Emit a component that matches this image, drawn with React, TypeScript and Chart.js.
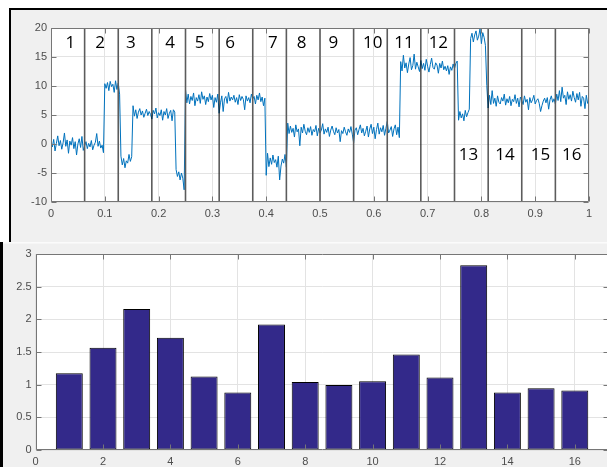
import React, { useEffect, useRef } from "react";
import { Chart, registerables } from "chart.js";

Chart.register(...registerables);

// ---------- Top panel: sampled signal (step 0.0025 over 0..1) ----------
const sampleStep = 0.0025;
const signalValues = [
  // 0 .. 0.0975
  0.3, -0.5, 0.8, -1.2, 0.1, 1.4, -0.3, 0.6, -0.9, 0.2,
  1.9, -0.4, 0.7, -1.6, 0.5, -0.2, 1.1, -0.8, 0.4, -1.9,
  0.0, 0.9, -0.6, 1.3, -1.1, -0.3, 0.4, -0.8, 0.1, -0.5,
  0.6, -1.0, -0.2, 0.3, 1.8, -0.4, 0.5, -0.7, -0.2, -1.5,
  // 0.1 .. 0.1275
  10.4, 9.6, 10.6, 9.2, 10.8, 9.9, 10.3, 8.9, 10.9, 9.4, 10.5, 8.6,
  // 0.13 .. 0.15
  -2.1, -3.6, -2.5, -4.1, -2.9, -3.3, -1.8, -3.0, -2.2,
  // 0.1525 .. 0.23
  6.6, 4.8, 5.9, 4.4, 5.5, 6.1, 5.0, 5.7, 4.6, 5.3,
  6.0, 4.9, 5.6, 5.1, 4.3, 5.8, 5.2, 6.2, 4.5, 5.4,
  4.9, 5.9, 4.1, 5.6, 5.0, 6.1, 4.4, 5.3, 5.8, 4.0,
  5.9, 5.5,
  // 0.2325 .. 0.2475
  -4.4, -5.6, -4.8, -6.2, -5.0, -5.9, -7.9,
  // 0.25 .. 0.3975
  9.4, 7.1, 8.6, 6.9, 8.2, 7.5, 8.8, 6.6, 8.0, 7.4,
  8.5, 7.0, 9.0, 7.7, 8.3, 6.8, 8.1, 7.3, 8.7, 7.6,
  8.4, 6.3, 8.0, 7.2, 8.6, 5.3, 7.1, 8.3, 5.6, 7.8,
  8.2, 7.0, 8.9, 7.4, 8.1, 7.6, 8.4, 7.2, 8.0, 6.8,
  8.5, 7.5, 8.2, 7.7, 5.9, 8.3, 7.4, 8.0, 7.1, 8.6,
  7.8, 8.2, 6.9, 8.4, 7.6, 8.8, 7.3, 8.1, 6.6, 7.9,
  // 0.4 .. 0.4375
  -5.4, -1.6, -3.9, -2.4, -3.5, -1.9, -3.2, -2.7, -4.0, -2.1,
  -6.2, -3.8, -2.6, -3.3, -1.8, -4.0,
  // 0.44 .. 0.6475
  3.6, 1.8, 3.1, 2.0, 2.7, 1.2, 3.3, 2.1, 2.6, -0.3,
  2.9, 1.9, 3.4, 2.2, 1.6, 2.8, 2.0, 3.0, 1.5, 2.5,
  2.1, 3.2, 1.4, 2.7, 1.9, 2.4, 3.5, 1.7, 2.6, 2.0,
  2.9, 1.3, 2.4, 3.1, 2.2, 1.6, 2.8, 1.9, 2.5, 0.4,
  2.3, 1.8, 2.9, 2.1, 1.5, 2.6, 2.0, 3.0, 1.7, 0.2,
  2.4, 2.8, 1.6, 2.5, 3.3, 1.9, 2.7, 1.4, 2.2, 3.1,
  1.2, 2.6, 3.4, 1.8, 2.9, 0.9, 2.5, 3.6, 1.7, 2.8,
  2.1, 3.2, 1.5, 2.7, 3.9, 1.9, 2.4, 3.0, 1.3, 2.6,
  3.3, 1.6, 2.9, 1.1,
  // 0.65 .. 0.755
  14.2, 12.6, 15.3, 13.1, 14.0, 12.3, 13.8, 14.9, 12.8, 13.5,
  15.5, 12.9, 14.1, 13.3, 12.5, 14.4, 13.0, 13.9, 12.7, 14.6,
  13.4, 12.4, 13.7, 14.8, 13.2, 12.9, 14.0, 13.6, 12.2, 13.9,
  13.1, 14.3, 12.8, 13.4, 12.6, 13.5, 12.0, 13.3, 12.7, 13.8,
  13.0, 13.9, 14.3,
  // 0.7575 .. 0.7775
  4.1, 5.6, 4.5, 5.2, 4.0, 5.8, 4.7, 5.4, 6.0,
  // 0.78 .. 0.8075
  18.2, 19.1, 17.6, 18.8, 19.5, 17.9, 18.6, 19.9, 17.3, 19.2, 18.4, 17.0,
  // 0.81 .. 1
  10.1, 6.2, 8.4, 6.8, 9.2, 7.0, 7.9, 6.5, 8.3, 7.2,
  6.9, 8.0, 7.4, 8.6, 6.7, 7.8, 7.1, 8.2, 6.6, 7.7,
  7.3, 8.5, 7.0, 7.9, 6.4, 8.1, 7.5, 6.8, 8.3, 7.2,
  7.7, 5.9, 8.0, 7.1, 7.6, 8.4, 6.9, 7.5, 7.8, 7.0,
  5.6, 6.6, 7.4, 7.9, 7.1, 8.0, 6.0, 7.6, 8.3, 7.2,
  7.8, 6.9, 8.6, 7.5, 9.2, 7.3, 9.8, 7.9, 8.4, 6.8,
  9.0, 7.7, 8.5, 7.4, 9.1, 8.0, 7.2, 8.7, 7.6, 8.9,
  6.5, 8.2, 7.9, 6.1, 8.4, 7.0, 7.6,
];

// segment boundaries (x) and which ones are drawn dark/thin
const segmentEdges = [0.0625, 0.125, 0.1875, 0.25, 0.3125, 0.375, 0.4375, 0.5, 0.5625, 0.625, 0.6875, 0.75, 0.8125, 0.875, 0.9375];
const segmentEdgeDark = [false, false, true, false, true, false, false, false, false, false, true, false, true, false, false];

// segment number annotations (data coordinates)
const segmentLabels = ["1", "2", "3", "4", "5", "6", "7", "8", "9", "10", "11", "12", "13", "14", "15", "16"];
const segmentLabelX = [0.036, 0.0915, 0.1485, 0.2216, 0.276, 0.333, 0.4124, 0.466, 0.525, 0.598, 0.656, 0.72, 0.776, 0.844, 0.91, 0.968];
const segmentLabelY = [17.35, 17.35, 17.35, 17.35, 17.35, 17.35, 17.35, 17.35, 17.35, 17.35, 17.35, 17.35, -1.9, -1.9, -1.9, -1.9];

// ---------- Bottom panel: bars ----------
const barCategories = [1, 2, 3, 4, 5, 6, 7, 8, 9, 10, 11, 12, 13, 14, 15, 16];
const barValues = [1.175, 1.564, 2.16, 1.717, 1.124, 0.879, 1.921, 1.042, 0.996, 1.053, 1.461, 1.109, 2.826, 0.879, 0.945, 0.91];

const TICK_FONT = { family: "'Liberation Sans', Arial, Helvetica, sans-serif", size: 11 };
const TICK_COLOR = "#4d4d4d";
const GRID_COLOR = "#e3e3e3";
const BOX_COLOR = "#767676";
const LINE_COLOR = "#0072BD";
const BAR_COLOR = "#33298a";
const PANEL_GRAY = "#f0f0f0";

const plainNumber = (v: any) => String(parseFloat(Number(v).toFixed(4)));

function drawFrame(chart: any, tickLen: number) {
  const { ctx, chartArea: a, scales } = chart;
  const L = Math.round(a.left) + 0.5;
  const R = Math.round(a.right) - 0.5;
  const T = Math.round(a.top) + 0.5;
  const B = Math.round(a.bottom) - 0.5;
  ctx.save();
  ctx.strokeStyle = BOX_COLOR;
  ctx.lineWidth = 1;
  ctx.beginPath();
  ctx.rect(L, T, R - L, B - T);
  ctx.stroke();
  ctx.beginPath();
  for (const t of scales.x.ticks) {
    const px = Math.round(scales.x.getPixelForValue(t.value)) + 0.5;
    ctx.moveTo(px, B);
    ctx.lineTo(px, B - tickLen);
    ctx.moveTo(px, T);
    ctx.lineTo(px, T + tickLen);
  }
  for (const t of scales.y.ticks) {
    const py = Math.round(scales.y.getPixelForValue(t.value)) + 0.5;
    ctx.moveTo(L, py);
    ctx.lineTo(L + tickLen, py);
    ctx.moveTo(R, py);
    ctx.lineTo(R - tickLen, py);
  }
  ctx.stroke();
  ctx.restore();
}

const topDecor = {
  id: "topDecor",
  beforeDraw(chart: any) {
    const { ctx, chartArea: a, width, height } = chart;
    ctx.save();
    ctx.fillStyle = "#ffffff";
    ctx.fillRect(0, 0, width, height);
    ctx.fillStyle = PANEL_GRAY;
    ctx.fillRect(11, 10, width - 11, height - 10);
    ctx.fillStyle = "#000000";
    ctx.fillRect(9, 8, width - 9, 2);
    ctx.fillRect(9, 8, 2, height - 8);
    ctx.fillStyle = "#ffffff";
    ctx.fillRect(a.left, a.top, a.right - a.left, a.bottom - a.top);
    ctx.restore();
  },
  afterDatasetsDraw(chart: any) {
    const { ctx, chartArea: a, scales } = chart;
    ctx.save();
    segmentEdges.forEach((v, i) => {
      const dark = segmentEdgeDark[i];
      const px = scales.x.getPixelForValue(v);
      ctx.strokeStyle = dark ? "#111111" : "#5c5c5c";
      ctx.lineWidth = dark ? 1.1 : 1.6;
      ctx.beginPath();
      ctx.moveTo(px, a.top);
      ctx.lineTo(px, a.bottom);
      ctx.stroke();
    });
    ctx.restore();
    drawFrame(chart, 5);
    ctx.save();
    ctx.fillStyle = "#000000";
    ctx.font = "17px 'Open Sans', 'Noto Sans', sans-serif";
    ctx.textAlign = "center";
    ctx.textBaseline = "middle";
    segmentLabels.forEach((s, i) => {
      ctx.fillText(s, scales.x.getPixelForValue(segmentLabelX[i]), scales.y.getPixelForValue(segmentLabelY[i]));
    });
    ctx.restore();
  },
};

const bottomDecor = {
  id: "bottomDecor",
  beforeDraw(chart: any) {
    const { ctx, chartArea: a, width, height } = chart;
    ctx.save();
    ctx.fillStyle = PANEL_GRAY;
    ctx.fillRect(0, 0, width, height);
    ctx.fillStyle = "#fbfbfb";
    ctx.fillRect(0, 0, width, 1.5);
    ctx.fillStyle = "#000000";
    ctx.fillRect(0, 0, 3, height);
    ctx.fillStyle = "#ffffff";
    ctx.fillRect(a.left, a.top, a.right - a.left, a.bottom - a.top);
    ctx.restore();
  },
  afterDatasetsDraw(chart: any) {
    drawFrame(chart, 5);
  },
};

export default function App() {
  const topRef = useRef<HTMLCanvasElement | null>(null);
  const botRef = useRef<HTMLCanvasElement | null>(null);

  useEffect(() => {
    document.body.style.margin = "0";
    const topChart = new Chart(topRef.current as HTMLCanvasElement, {
      type: "line",
      data: {
        datasets: [
          {
            data: signalValues.map((y, i) => ({ x: i * sampleStep, y })),
            borderColor: LINE_COLOR,
            borderWidth: 1,
            pointRadius: 0,
            tension: 0,
            fill: false,
          },
        ],
      },
      options: {
        animation: false,
        responsive: false,
        events: [],
        layout: { padding: { left: 0, top: 28, right: 18, bottom: 0 } },
        plugins: { legend: { display: false }, tooltip: { enabled: false } },
        scales: {
          x: {
            type: "linear",
            min: 0,
            max: 1,
            afterFit: (s: any) => {
              s.height = 40;
            },
            ticks: { stepSize: 0.1, font: TICK_FONT, color: TICK_COLOR, padding: 5, maxRotation: 0, autoSkip: false, callback: plainNumber },
            grid: { color: GRID_COLOR, drawTicks: false },
            border: { display: false },
          },
          y: {
            type: "linear",
            min: -10,
            max: 20,
            afterFit: (s: any) => {
              s.width = 51;
            },
            ticks: { stepSize: 5, font: TICK_FONT, color: TICK_COLOR, padding: 4, callback: plainNumber },
            grid: { color: GRID_COLOR, drawTicks: false },
            border: { display: false },
          },
        },
      } as any,
      plugins: [topDecor],
    });

    const botChart = new Chart(botRef.current as HTMLCanvasElement, {
      type: "bar",
      data: {
        datasets: [
          {
            data: barCategories.map((c, i) => ({ x: c, y: barValues[i] })),
            backgroundColor: BAR_COLOR,
            borderColor: "#000000",
            borderWidth: 1,
            borderSkipped: false,
            barPercentage: 0.8,
            categoryPercentage: 1,
          },
        ],
      },
      options: {
        animation: false,
        responsive: false,
        events: [],
        layout: { padding: { left: 0.6, top: 12, right: 1.5, bottom: 0 } },
        plugins: { legend: { display: false }, tooltip: { enabled: false } },
        scales: {
          x: {
            type: "linear",
            min: 0,
            max: 17,
            offset: false,
            afterFit: (s: any) => {
              s.height = 17;
            },
            ticks: { stepSize: 2, includeBounds: false, font: TICK_FONT, color: TICK_COLOR, padding: 5, maxRotation: 0, autoSkip: false, callback: plainNumber },
            grid: { color: GRID_COLOR, drawTicks: false, offset: false },
            border: { display: false },
          },
          y: {
            type: "linear",
            min: 0,
            max: 3,
            afterFit: (s: any) => {
              s.width = 35;
            },
            ticks: { stepSize: 0.5, font: TICK_FONT, color: TICK_COLOR, padding: 4, callback: plainNumber },
            grid: { color: GRID_COLOR, drawTicks: false },
            border: { display: false },
          },
        },
      } as any,
      plugins: [bottomDecor],
    });

    return () => {
      topChart.destroy();
      botChart.destroy();
    };
  }, []);

  return (
    <div
      style={{
        position: "fixed",
        left: 0,
        top: 0,
        width: 607,
        height: 467,
        overflow: "hidden",
        background: "#ffffff",
      }}
    >
      <canvas
        ref={topRef}
        width={607}
        height={242}
        style={{ position: "absolute", left: 0, top: 0, width: 607, height: 242, display: "block" }}
      />
      <canvas
        ref={botRef}
        width={610}
        height={225}
        style={{ position: "absolute", left: 0, top: 242, width: 610, height: 225, display: "block" }}
      />
    </div>
  );
}
